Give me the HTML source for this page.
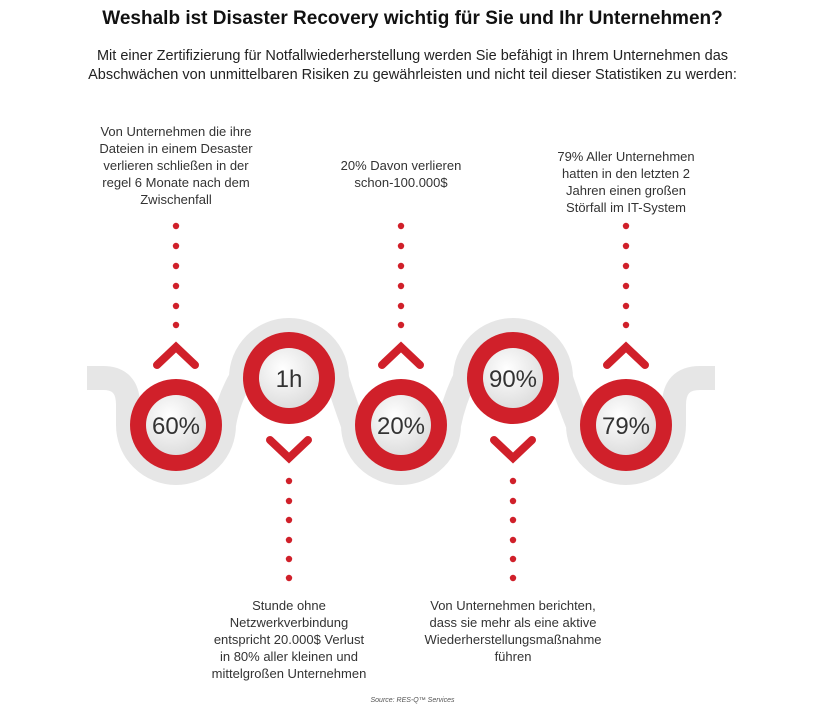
<!DOCTYPE html>
<html><head><meta charset="utf-8"><style>
body{margin:0;background:#fff;width:825px;height:721px;overflow:hidden;font-family:"Liberation Sans",sans-serif;color:#222}
.t{position:absolute;text-align:center;white-space:nowrap}
.s{font-size:13px;line-height:17px;color:#333}
</style></head><body>
<div class="t" style="left:0;width:825px;top:8px;font-size:19px;font-weight:bold;color:#111">Weshalb ist Disaster Recovery wichtig für Sie und Ihr Unternehmen?</div>
<div class="t" style="left:0;width:825px;top:47px;font-size:14.5px;line-height:19px;color:#222">Mit einer Zertifizierung für Notfallwiederherstellung werden Sie befähigt in Ihrem Unternehmen das<br>Abschwächen von unmittelbaren Risiken zu gewährleisten und nicht teil dieser Statistiken zu werden:</div>
<div class="t s" style="left:76px;width:200px;top:123px">Von Unternehmen die ihre<br>Dateien in einem Desaster<br>verlieren schließen in der<br>regel 6 Monate nach dem<br>Zwischenfall</div>
<div class="t s" style="left:311px;width:180px;top:157px">20% Davon verlieren<br>schon-100.000$</div>
<div class="t s" style="left:526px;width:200px;top:148px">79% Aller Unternehmen<br>hatten in den letzten 2<br>Jahren einen großen<br>Störfall im IT-System</div>
<div class="t s" style="left:189px;width:200px;top:597px">Stunde ohne<br>Netzwerkverbindung<br>entspricht 20.000$ Verlust<br>in 80% aller kleinen und<br>mittelgroßen Unternehmen</div>
<div class="t s" style="left:413px;width:200px;top:597px">Von Unternehmen berichten,<br>dass sie mehr als eine aktive<br>Wiederherstellungsmaßnahme<br>führen</div>
<div class="t" style="left:0;width:825px;top:697px;font-size:7px;font-style:italic;color:#555">Source: RES-Q™ Services</div>
<svg width="825" height="721" style="position:absolute;left:0;top:0">
<defs>
<radialGradient id="w" cx="0.4" cy="0.35" r="0.7"><stop offset="0" stop-color="#fff"/><stop offset="1" stop-color="#dcdcdc"/></radialGradient>
</defs>
<path d="M87 378 L103 378 Q128 378 128 405 L128 425 A48 48 0 0 0 224 425 Q228 400 241 378 A48 48 0 0 1 337 378 Q344 400 353 425 A48 48 0 0 0 449 425 Q454 400 465 378 A48 48 0 0 1 561 378 Q568 400 578 425 A48 48 0 0 0 674 425 L674 405 Q674 378 700 378 L715 378" fill="none" stroke="#e6e6e6" stroke-width="24"/>
<g fill="#d0202a">
<circle cx="176" cy="226" r="3.2"/><circle cx="176" cy="246" r="3.2"/><circle cx="176" cy="266" r="3.2"/><circle cx="176" cy="286" r="3.2"/><circle cx="176" cy="306" r="3.2"/><circle cx="176" cy="325" r="3.2"/>
<circle cx="401" cy="226" r="3.2"/><circle cx="401" cy="246" r="3.2"/><circle cx="401" cy="266" r="3.2"/><circle cx="401" cy="286" r="3.2"/><circle cx="401" cy="306" r="3.2"/><circle cx="401" cy="325" r="3.2"/>
<circle cx="626" cy="226" r="3.2"/><circle cx="626" cy="246" r="3.2"/><circle cx="626" cy="266" r="3.2"/><circle cx="626" cy="286" r="3.2"/><circle cx="626" cy="306" r="3.2"/><circle cx="626" cy="325" r="3.2"/>
<circle cx="289" cy="481" r="3.2"/><circle cx="289" cy="501" r="3.2"/><circle cx="289" cy="520" r="3.2"/><circle cx="289" cy="540" r="3.2"/><circle cx="289" cy="559" r="3.2"/><circle cx="289" cy="578" r="3.2"/>
<circle cx="513" cy="481" r="3.2"/><circle cx="513" cy="501" r="3.2"/><circle cx="513" cy="520" r="3.2"/><circle cx="513" cy="540" r="3.2"/><circle cx="513" cy="559" r="3.2"/><circle cx="513" cy="578" r="3.2"/>
</g>
<g fill="none" stroke="#d0202a" stroke-width="8" stroke-linecap="round">
<path d="M157 365 L176 347 L195 365"/><path d="M382 365 L401 347 L420 365"/><path d="M607 365 L626 347 L645 365"/>
<path d="M270 440 L289 458 L308 440"/><path d="M494 440 L513 458 L532 440"/>
</g>
<g>
<circle cx="176" cy="425" r="46" fill="#d0202a"/><circle cx="176" cy="425" r="30" fill="url(#w)"/>
<circle cx="289" cy="378" r="46" fill="#d0202a"/><circle cx="289" cy="378" r="30" fill="url(#w)"/>
<circle cx="401" cy="425" r="46" fill="#d0202a"/><circle cx="401" cy="425" r="30" fill="url(#w)"/>
<circle cx="513" cy="378" r="46" fill="#d0202a"/><circle cx="513" cy="378" r="30" fill="url(#w)"/>
<circle cx="626" cy="425" r="46" fill="#d0202a"/><circle cx="626" cy="425" r="30" fill="url(#w)"/>
</g>
<g font-family="Liberation Sans, sans-serif" font-size="24" fill="#333" text-anchor="middle">
<text x="176" y="434">60%</text><text x="289" y="387">1h</text><text x="401" y="434">20%</text><text x="513" y="387">90%</text><text x="626" y="434">79%</text>
</g>
</svg>
</body></html>
